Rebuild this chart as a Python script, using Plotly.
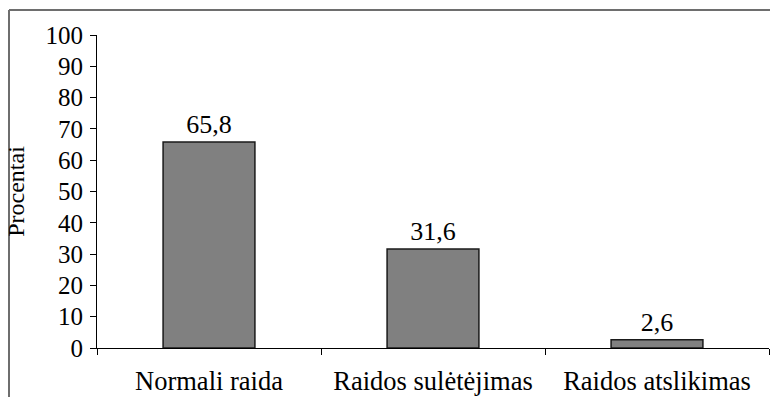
import plotly.graph_objects as go

categories = ["Normali raida", "Raidos sulėtėjimas", "Raidos atslikimas"]
values = [65.8, 31.6, 2.6]
y_ticks = [0, 10, 20, 30, 40, 50, 60, 70, 80, 90, 100]

labels = [f"{v:.1f}".replace(".", ",") for v in values]
xpos = list(range(len(categories)))

FONT = "Liberation Serif"

fig = go.Figure(go.Bar(
    x=xpos, y=values, text=labels, textposition="outside",
    textfont=dict(family=FONT, size=26, color="black"),
    marker=dict(color="#808080", line=dict(color="#1a1a1a", width=1.5)),
    width=0.41, cliponaxis=False,
))

fig.update_layout(
    width=770, height=397,
    margin=dict(l=97, r=1, t=35, b=49),
    paper_bgcolor="white", plot_bgcolor="white",
    showlegend=False,
    font=dict(family=FONT, color="black"),
    xaxis=dict(
        range=[-0.5, 2.5], tickvals=xpos, ticktext=categories,
        ticks="", tickfont=dict(size=26.5, family=FONT, color="black"),
        showline=True, linecolor="black", linewidth=1.2,
        showgrid=False, zeroline=False,
        minor=dict(tick0=-0.5, dtick=1, ticks="outside", ticklen=6,
                   tickcolor="black", tickwidth=1.2, showgrid=False),
        ticklabelstandoff=9,
    ),
    yaxis=dict(
        range=[0, 100], tickvals=y_ticks,
        ticks="outside", ticklen=6, tickcolor="black", tickwidth=1.2,
        tickfont=dict(size=25, family=FONT, color="black"),
        showline=True, linecolor="black", linewidth=1.2,
        showgrid=False, zeroline=False,
        title=dict(text="Procentai", font=dict(size=24, family=FONT, color="black"), standoff=14),
        ticklabelstandoff=2,
    ),
    shapes=[
        dict(type="line", xref="paper", yref="paper",
             x0=(9 - 97) / 672, x1=1.01, y0=(348 - 10) / 313, y1=(348 - 10) / 313,
             line=dict(color="#6e6e6e", width=2)),
        dict(type="line", xref="paper", yref="paper",
             x0=(9 - 97) / 672, x1=(9 - 97) / 672, y0=(348 - 10) / 313, y1=-0.3,
             line=dict(color="#6e6e6e", width=2)),
    ],
)

fig.write_html(
    "out.html",
    config={"displayModeBar": False},
    post_script="document.body.style.margin='0';document.body.style.overflow='hidden';",
)
